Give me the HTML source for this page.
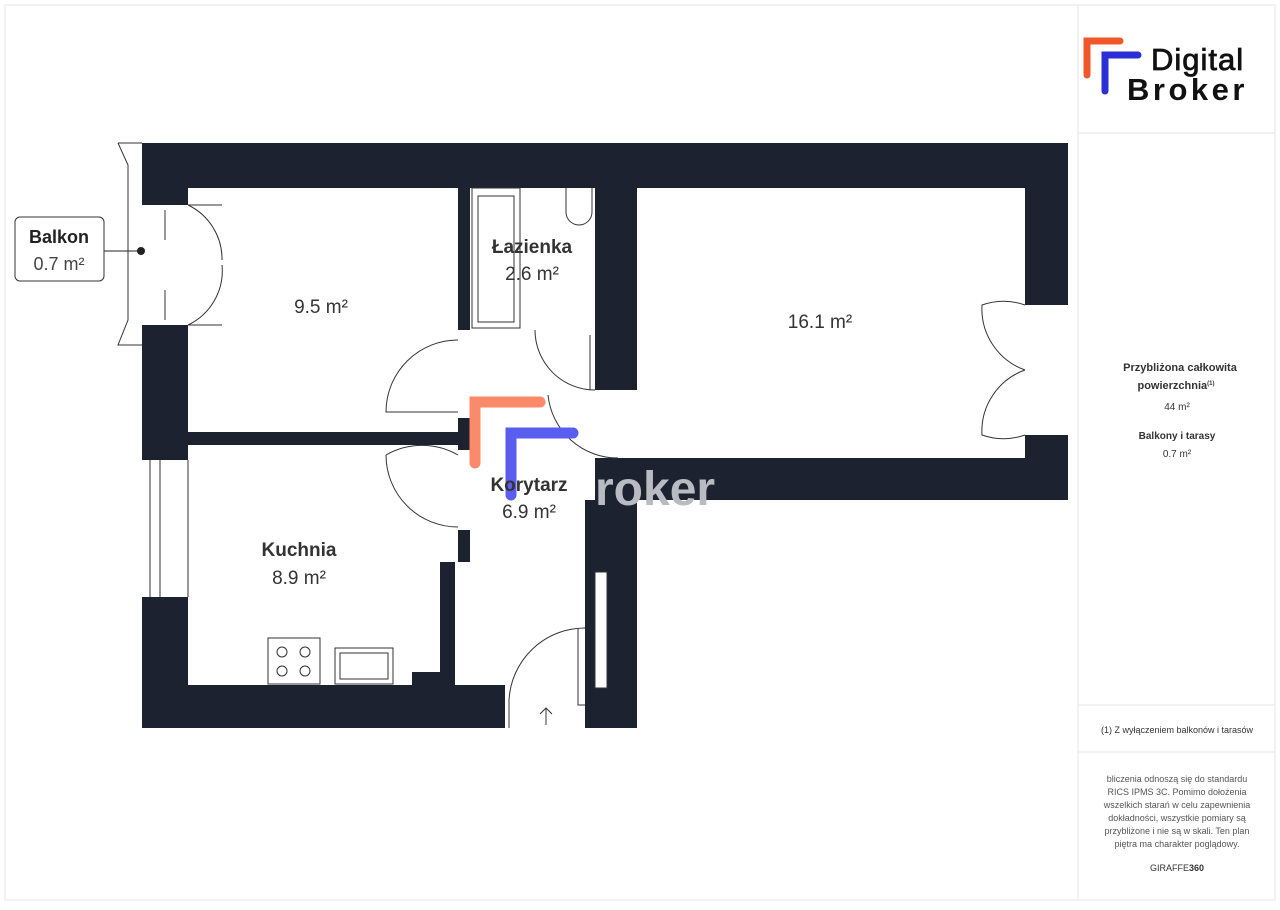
<!DOCTYPE html>
<html><head><style>
body{margin:0;background:#fff;}
svg text{font-family:"Liberation Sans",sans-serif;}
</style></head><body>
<svg width="1280" height="905" viewBox="0 0 1280 905" xmlns="http://www.w3.org/2000/svg">
<rect x="5" y="5" width="1270" height="895" fill="#fff" stroke="#e6e6e6"/>
<line x1="1078" y1="5" x2="1078" y2="900" stroke="#e6e6e6"/>
<line x1="1078" y1="133" x2="1275" y2="133" stroke="#e6e6e6"/>
<line x1="1078" y1="705" x2="1275" y2="705" stroke="#e6e6e6"/>
<line x1="1078" y1="752" x2="1275" y2="752" stroke="#e6e6e6"/>
<!-- logo -->
<path d="M1087 75 V41 H1120" stroke="#f0582c" stroke-width="7" fill="none" stroke-linecap="round"/>
<path d="M1105 91 V55 H1138" stroke="#2a2fd6" stroke-width="7" fill="none" stroke-linecap="round"/>
<text x="1151" y="70" font-size="31" fill="#111" stroke="#111" stroke-width="0.8" letter-spacing="1">Digital</text>
<text x="1127" y="100" font-size="31" font-weight="bold" fill="#111" letter-spacing="3.5">Broker</text>
<g fill="#333" text-anchor="middle" font-size="11">
<text x="1180" y="371" font-weight="bold">Przybliżona całkowita</text>
<text x="1176" y="389" font-weight="bold">powierzchnia<tspan font-size="6" dy="-4">(1)</tspan></text>
<text x="1177" y="410" font-size="10">44 m²</text>
<text x="1177" y="439" font-size="10" font-weight="bold">Balkony i tarasy</text>
<text x="1177" y="457" font-size="10">0.7 m²</text>
<text x="1177" y="733" font-size="9">(1) Z wyłączeniem balkonów i tarasów</text>
<g font-size="9" fill="#555"><text x="1177" y="782">bliczenia odnoszą się do standardu</text>
<text x="1177" y="795">RICS IPMS 3C. Pomimo dołożenia</text>
<text x="1177" y="808">wszelkich starań w celu zapewnienia</text>
<text x="1177" y="821">dokładności, wszystkie pomiary są</text>
<text x="1177" y="834">przybliżone i nie są w skali. Ten plan</text>
<text x="1177" y="847">piętra ma charakter poglądowy.</text>
<text x="1177" y="871" fill="#333">GIRAFFE<tspan font-weight="bold">360</tspan></text></g>
</g>
<!-- walls -->
<g fill="#1c2230">
<rect x="142" y="143" width="926" height="45"/>
<rect x="142" y="143" width="46" height="62"/>
<rect x="142" y="325" width="46" height="135"/>
<rect x="142" y="597" width="46" height="131"/>
<rect x="142" y="685" width="363" height="43"/>
<rect x="412" y="672" width="43" height="20"/>
<rect x="440" y="562" width="15" height="123"/>
<rect x="458" y="530" width="12" height="32"/>
<rect x="1025" y="143" width="43" height="162"/>
<rect x="1025" y="435" width="43" height="65"/>
<rect x="595" y="458" width="473" height="42"/>
<rect x="585" y="500" width="52" height="228"/>
<rect x="458" y="188" width="12" height="142"/>
<rect x="595" y="188" width="42" height="202"/>
<rect x="188" y="432" width="270" height="13"/>
<rect x="458" y="418" width="12" height="32"/>
</g>
<g fill="#fff" stroke="#333" stroke-width="1">
<rect x="142" y="460" width="46" height="137" stroke="none"/>
<line x1="150" y1="460" x2="150" y2="597"/><line x1="160" y1="460" x2="160" y2="597"/><line x1="188" y1="460" x2="188" y2="597"/>
<rect x="595" y="572" width="12" height="116"/>
<rect x="472" y="188" width="48" height="140"/><rect x="478" y="196" width="36" height="126"/>
<rect x="268" y="638" width="52" height="46"/>
<circle cx="282" cy="652" r="5"/><circle cx="305" cy="652" r="5"/><circle cx="282" cy="671" r="5"/><circle cx="305" cy="671" r="5"/>
<rect x="335" y="648" width="58" height="36"/><rect x="340" y="653" width="48" height="26"/>
<path d="M566 188 V212 A13 13 0 0 0 592 212 V188" />
</g>
<!-- doors -->
<g fill="none" stroke="#333" stroke-width="1">
<path d="M118 143 H142 M118 143 L128 165 V320 L118 345 H142"/>
<path d="M188 205 H222 M188 205 A60 60 0 0 1 222 260 M188 325 H222 M188 325 A60 60 0 0 0 222 265"/>
<path d="M165 210 V240 M165 290 V320"/>
<path d="M458 340 A72 72 0 0 0 386 412 H458"/>
<path d="M458 455 A72 72 0 0 0 386 455 A72 72 0 0 0 458 527"/>
<path d="M535 330 A60 60 0 0 0 595 390"/>
<path d="M590 335 V390"/>
<path d="M548 395 A70 70 0 0 0 618 458"/>
<path d="M1025 305 A65 65 0 0 0 982 305 A65 65 0 0 0 1025 370"/>
<path d="M1025 435 A65 65 0 0 1 982 435 A65 65 0 0 1 1025 370"/>
<path d="M585 628 A76 76 0 0 0 509 700 V728 M578 628 V705 H585"/>
<path d="M546 725 V708 M540 714 L546 708 L552 714"/>
</g>
<circle cx="141" cy="251" r="4" fill="#222"/>
<line x1="104" y1="251" x2="141" y2="251" stroke="#222"/>
<rect x="15" y="217" width="89" height="64" rx="5" fill="#fff" stroke="#333"/>
<text x="59" y="243" font-size="18" font-weight="bold" text-anchor="middle" fill="#222">Balkon</text>
<text x="59" y="270" font-size="18" text-anchor="middle" fill="#444">0.7 m²</text>
<!-- watermark -->
<path d="M475 463 V402 H540" stroke="#fa8a6a" stroke-width="11" fill="none" stroke-linecap="round"/>
<path d="M511 495 V433 H573" stroke="#5a5ef0" stroke-width="11" fill="none" stroke-linecap="round"/>
<text x="595" y="505" font-size="48" font-weight="bold" fill="#b8bcc2">roker</text>
<g text-anchor="middle" font-size="19" fill="#333">
<text x="321" y="313">9.5 m²</text>
<text x="532" y="253" font-weight="bold">Łazienka</text>
<text x="532" y="280">2.6 m²</text>
<text x="820" y="328">16.1 m²</text>
<text x="529" y="491" font-weight="bold">Korytarz</text>
<text x="529" y="518">6.9 m²</text>
<text x="299" y="556" font-weight="bold">Kuchnia</text>
<text x="299" y="584">8.9 m²</text>
</g>
</svg>
</body></html>
